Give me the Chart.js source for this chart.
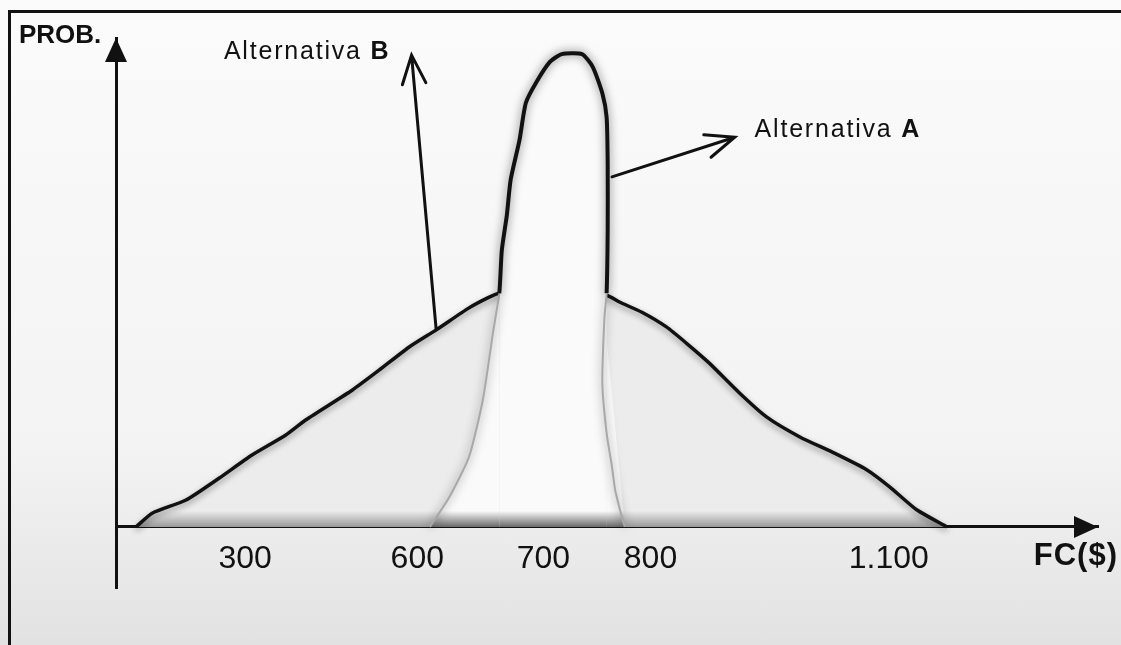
<!DOCTYPE html>
<html>
<head>
<meta charset="utf-8">
<script src="https://cdn.jsdelivr.net/npm/chart.js@4.4.1/dist/chart.umd.min.js"></script>
<style>
  html, body { margin: 0; padding: 0; }
  body {
    width: 1121px; height: 645px; overflow: hidden;
    background: linear-gradient(to bottom, #fbfbfb 0%, #f3f3f3 70%, #e2e2e2 100%);
  }
  canvas { display: block; }
</style>
</head>
<body>
<canvas id="chart" width="1121" height="645"></canvas>
<script>
// Alternativa B: wide distribution of FC
const fcB = [110, 138, 197, 255, 312, 371, 406, 487, 534, 586, 615, 641, 657, 665, 708,
             759, 771, 792, 820, 845, 874, 912, 946, 988, 1030, 1072, 1101, 1135, 1173];
const probB = [0, 0.028, 0.055, 0.100, 0.147, 0.188, 0.219, 0.280, 0.321, 0.368, 0.403, 0.448, 0.470, 0.478, 0.486,
               0.474, 0.460, 0.439, 0.409, 0.376, 0.335, 0.274, 0.225, 0.184, 0.152, 0.117, 0.082, 0.035, 0];

// Alternativa A: narrow, tall distribution
const fcA = [610, 625, 641, 652, 660, 665, 667, 671, 674, 681, 686, 694, 706, 717,
             736, 746, 755, 759, 760, 760, 759, 757, 755, 759, 764, 767, 774, 776];
const probA = [0, 0.059, 0.143, 0.260, 0.397, 0.478, 0.566, 0.638, 0.710, 0.791, 0.867, 0.908, 0.951, 0.967,
               0.967, 0.941, 0.887, 0.838, 0.744, 0.607, 0.478, 0.429, 0.294, 0.192, 0.123, 0.075, 0.014, 0];

const tickValues = [300, 600, 700, 800, 1100];
const tickLabels = ['300', '600', '700', '800', '1.100'];
const seriesNames = ['Alternativa A', 'Alternativa B'];

const xMin = 75, xMax = 1363;
const yMin = -0.125, yMax = 1;

// the hand drawn axis is not linear: ticks sit at these fractions of the width
const knotValues = [xMin, ...tickValues, xMax];
const knotFrac = [0, 0.1315, 0.3068, 0.4353, 0.5443, 0.7870, 1];

function toFrac(v) {
  let i = 0;
  while (i < knotValues.length - 2 && v > knotValues[i + 1]) i++;
  const t = (v - knotValues[i]) / (knotValues[i + 1] - knotValues[i]);
  return knotFrac[i] + t * (knotFrac[i + 1] - knotFrac[i]);
}
function fromFrac(f) {
  let i = 0;
  while (i < knotFrac.length - 2 && f > knotFrac[i + 1]) i++;
  const t = (f - knotFrac[i]) / (knotFrac[i + 1] - knotFrac[i]);
  return knotValues[i] + t * (knotValues[i + 1] - knotValues[i]);
}

class WarpScale extends Chart.LinearScale {
  getPixelForValue(value) {
    if (value === null || value === undefined || isNaN(value)) return NaN;
    return this.getPixelForDecimal(toFrac(value));
  }
  getValueForPixel(pixel) {
    return fromFrac(this.getDecimalForPixel(pixel));
  }
}
WarpScale.id = 'warp';
WarpScale.defaults = {};
Chart.register(WarpScale);

Chart.defaults.font.family = '"Liberation Sans", Arial, sans-serif';
Chart.defaults.color = '#111';

const toPoints = (xs, ys) => xs.map((x, i) => ({ x: x, y: ys[i] }));

function baseGradient(ctx, top, bottom) {
  const chart = ctx.chart;
  if (!chart.chartArea) return top;
  const y0 = chart.scales.y.getPixelForValue(0);
  const g = chart.ctx.createLinearGradient(0, y0 - 16, 0, y0);
  g.addColorStop(0, top);
  g.addColorStop(1, bottom);
  return g;
}

const sketch = {
  id: 'sketch',
  beforeDraw(chart) {
    const c = chart.ctx;
    c.save();
    c.fillStyle = '#111';
    c.fillRect(8, 10, chart.width - 8, 3);
    c.fillRect(8, 10, 3, chart.height - 10);
    c.restore();
  },
  beforeDatasetDraw(chart, args) {
    const c = chart.ctx;
    c.save();
    if (args.index === 0) {
      c.shadowColor = 'rgba(0,0,0,0.55)';
      c.shadowBlur = 10;
    } else {
      c.shadowColor = 'rgba(0,0,0,0.4)';
      c.shadowBlur = 6;
      c.shadowOffsetY = 3;
    }
  },
  afterDatasetDraw(chart) {
    chart.ctx.restore();
  },
  afterDraw(chart, args, opts) {
    const c = chart.ctx;
    const x = chart.scales.x, y = chart.scales.y;
    const area = chart.chartArea;
    const y0 = y.getPixelForValue(0);
    c.save();
    c.fillStyle = '#111';
    c.strokeStyle = '#111';

    // axis arrow heads
    c.beginPath();
    c.moveTo(area.left, area.top);
    c.lineTo(area.left - 11, area.top + 24);
    c.lineTo(area.left + 11, area.top + 24);
    c.closePath();
    c.fill();
    c.beginPath();
    c.moveTo(area.right, y0);
    c.lineTo(area.right - 24, y0 - 11);
    c.lineTo(area.right - 24, y0 + 11);
    c.closePath();
    c.fill();

    // pointer arrows
    c.lineWidth = 3;
    c.lineCap = 'round';
    opts.arrows.forEach(a => {
      const x1 = x.getPixelForValue(a.from[0]), y1 = y.getPixelForValue(a.from[1]);
      const x2 = x.getPixelForValue(a.to[0]), y2 = y.getPixelForValue(a.to[1]);
      const ang = Math.atan2(y1 - y2, x1 - x2);
      c.beginPath();
      c.moveTo(x1, y1);
      c.lineTo(x2, y2);
      c.moveTo(x2 + 31 * Math.cos(ang - 0.39), y2 + 31 * Math.sin(ang - 0.39));
      c.lineTo(x2, y2);
      c.lineTo(x2 + 31 * Math.cos(ang + 0.39), y2 + 31 * Math.sin(ang + 0.39));
      c.stroke();
    });

    // series labels
    c.textBaseline = 'alphabetic';
    c.textAlign = 'left';
    c.letterSpacing = '1.8px';
    opts.labels.forEach(l => {
      const px = x.getPixelForValue(l.x), py = y.getPixelForValue(l.y);
      const words = l.text.split(' ');
      const tail = words.pop();
      const head = words.join(' ') + ' ';
      c.font = '25px "Liberation Sans", Arial, sans-serif';
      c.fillText(head, px, py);
      const w = c.measureText(head).width;
      c.font = 'bold 25px "Liberation Sans", Arial, sans-serif';
      c.fillText(tail, px + w, py);
    });

    // axis titles
    c.letterSpacing = '0px';
    c.font = 'bold 26px "Liberation Sans", Arial, sans-serif';
    c.fillText('PROB.', area.left - 97, area.top + 5);
    c.textAlign = 'right';
    c.letterSpacing = '1px';
    c.font = 'bold 31px "Liberation Sans", Arial, sans-serif';
    c.fillText('FC($)', area.right + 20, y0 + 38);
    c.restore();
  }
};

new Chart(document.getElementById('chart'), {
  type: 'line',
  data: {
    datasets: [
      {
        label: seriesNames[0],
        data: toPoints(fcA, probA),
        borderColor: '#111',
        borderWidth: 4,
        tension: 0.2,
        pointRadius: 0,
        fill: 'origin',
        backgroundColor: ctx => baseGradient(ctx, '#fafafa', '#6a6a6a'),
        segment: {
          borderColor: ctx => (ctx.p0.parsed.y > 0.47 && ctx.p1.parsed.y > 0.47) ? '#111' : '#a8a8a8',
          borderWidth: ctx => (ctx.p0.parsed.y > 0.47 && ctx.p1.parsed.y > 0.47) ? 4 : 2
        }
      },
      {
        label: seriesNames[1],
        data: toPoints(fcB, probB),
        borderColor: '#111',
        borderWidth: 3.5,
        tension: 0.2,
        pointRadius: 0,
        fill: 'origin',
        backgroundColor: ctx => baseGradient(ctx, '#ececec', '#9a9a9a')
      }
    ]
  },
  options: {
    responsive: false,
    animation: false,
    layout: { padding: { left: 116, top: 38, right: 23, bottom: 57 } },
    plugins: {
      legend: { display: false },
      tooltip: { enabled: false },
      sketch: {
        arrows: [
          { from: [615, 0.403], to: [590, 0.965] },
          { from: [764, 0.716], to: [906, 0.797] }
        ],
        labels: [
          { x: 263, y: 0.957, text: seriesNames[1] },
          { x: 931, y: 0.797, text: seriesNames[0] }
        ]
      }
    },
    scales: {
      x: {
        type: 'warp',
        min: xMin,
        max: xMax,
        position: { y: 0 },
        afterBuildTicks: scale => { scale.ticks = tickValues.map(v => ({ value: v })); },
        ticks: {
          autoSkip: false,
          maxRotation: 0,
          padding: 13,
          color: '#111',
          font: { size: 32 },
          callback: (v, i) => tickLabels[i]
        },
        grid: { drawOnChartArea: false, drawTicks: false, color: 'rgba(0,0,0,0)' },
        border: { display: true, color: '#111', width: 3 }
      },
      y: {
        type: 'linear',
        min: yMin,
        max: yMax,
        ticks: { display: false },
        grid: { drawOnChartArea: false, drawTicks: false, color: 'rgba(0,0,0,0)' },
        border: { display: true, color: '#111', width: 3 }
      }
    }
  },
  plugins: [sketch]
});
</script>
</body>
</html>
